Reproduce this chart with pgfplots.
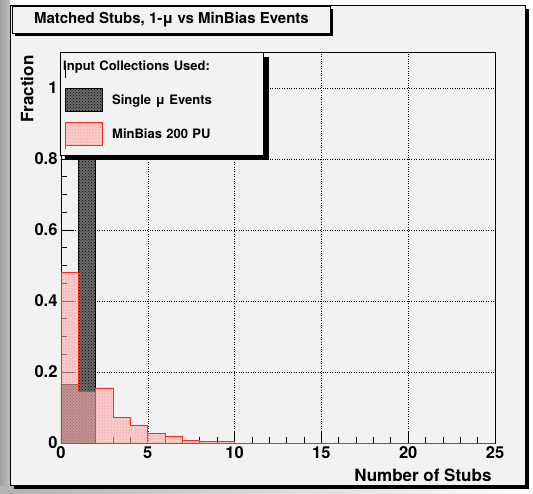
\documentclass[border=0pt]{standalone}
\usepackage{pgfplots}
\pgfplotsset{compat=1.18}
\usepackage{fontspec}
\setmainfont{TeX Gyre Heros}
\usetikzlibrary{patterns,shadows}
\definecolor{padgray}{HTML}{F2F2F2}
\definecolor{histred}{HTML}{FF2A1A}
\pgfplotsset{
  box legend/.style={legend image code/.code={%
    \draw[##1] (0pt,-11.5pt) rectangle (37pt,11.5pt);}},
  last box legend/.style={legend image code/.code={%
    \draw[##1] (0pt,-11.5pt) rectangle (37pt,11.5pt);
    \path (0pt,-11.5pt) -- (0pt,-14.5pt);}},
}

\begin{document}
\begin{tikzpicture}
\useasboundingbox (0,0) rectangle (533pt,-493pt);
% surroundings of the canvas
\fill[white] (0,0) rectangle (533pt,-493pt);
\shade[left color=gray!75, right color=gray!50] (0,0) rectangle (10pt,-493pt);
\shade[left color=gray!60, right color=white] (0,-486pt) rectangle (533pt,-493pt);
% canvas with its shadow
\fill[black] (14pt,-9pt) rectangle (529pt,-489pt);
\draw[fill=padgray, line width=0.8pt] (10pt,-5pt) rectangle (525pt,-485pt);

\begin{axis}[
  at={(61pt,-443pt)}, anchor=south west,
  scale only axis, width=434pt, height=391pt,
  xmin=0, xmax=25, ymin=0, ymax=1.1014,
  xtick={0,5,10,15,20,25}, minor x tick num=4,
  ytick={0,0.2,0.4,0.6,0.8,1}, minor y tick num=3,
  xtick pos=left, ytick pos=left,
  major tick length=12pt, minor tick length=6pt,
  tick style={black, line width=0.8pt},
  grid=major,
  major grid style={black, dotted, line width=0.6pt},
  axis line style={black, line width=0.8pt},
  axis background/.style={fill=padgray},
  /pgf/number format/assume math mode=true,
  ticklabel style={font=\fontsize{16.5}{18}\selectfont\bfseries},
  xlabel={Number of Stubs}, ylabel={Fraction},
  label style={font=\fontsize{17}{20}\selectfont\bfseries},
  xlabel style={at={(axis description cs:1,-0.083)}, anchor=east},
  ylabel style={at={(axis description cs:-0.078,1)}, anchor=east},
  legend cell align=left,
  legend style={
    name=collections,
    at={(axis description cs:-0.0023,1)}, anchor=north west,
    draw=black, fill=padgray, line width=0.8pt,
    font=\fontsize{13}{15}\selectfont\bfseries,
    inner xsep=5pt, inner ysep=6pt, row sep=10pt,
    /tikz/every odd column/.append style={column sep=7pt},
    /tikz/every even column/.append style={text width=144pt},
  },
]
% header row of the legend, with extra room beneath it
\addlegendimage{legend image code/.code={\path (0pt,0pt) -- (0pt,-12pt);}}
\addlegendentry{\hspace*{-49pt}Input Collections Used:}

% single muon sample
\addplot[const plot, draw=black, line width=0.8pt, fill=black!58,
  postaction={pattern=crosshatch dots, pattern color=black}, box legend]
  coordinates {(0,0.165) (1,0.83) (2,0)} \closedcycle;
\addlegendentry{Single μ Events}

% minimum bias sample, 200 pile-up
\addplot[const plot, draw=histred, line width=0.8pt, fill=red!30, fill opacity=0.6,
  postaction={pattern=dots, pattern color=red!80}, last box legend]
  coordinates {(0,0.48) (1,0.145) (2,0.155) (3,0.072) (4,0.051) (5,0.026)
               (6,0.020) (7,0.0075) (8,0.004) (9,0.004) (10,0) (25,0)} \closedcycle;
\addlegendentry{MinBias 200 PU}
\end{axis}

% shadow strips along the legend box
\fill[black] ([xshift=0.4pt,yshift=-5pt]collections.north east)
  rectangle ([xshift=5pt,yshift=-5pt]collections.south east);
\fill[black] ([xshift=5pt,yshift=-0.4pt]collections.south west)
  rectangle ([xshift=5pt,yshift=-5pt]collections.south east);

% title box
\node[draw=black, fill=padgray, line width=0.8pt,
  drop shadow={shadow xshift=3pt, shadow yshift=-3pt, fill=black, opacity=1},
  minimum width=318pt, minimum height=27pt, anchor=north west,
  font=\fontsize{15}{18}\selectfont\bfseries]
  at (12pt,-6pt) {Matched Stubs, 1-μ vs MinBias Events};
\end{tikzpicture}
\end{document}
